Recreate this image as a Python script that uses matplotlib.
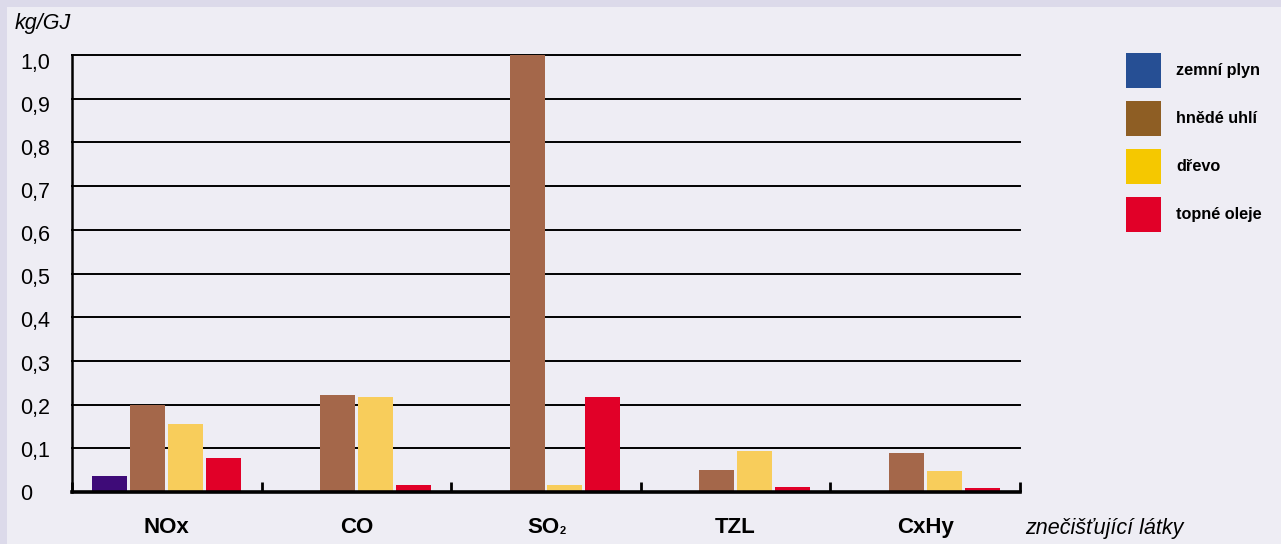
import matplotlib
matplotlib.use("Agg")
import matplotlib.pyplot as plt
import matplotlib.patches as mpatches
import matplotlib.transforms as mtransforms
import numpy as np

categories = ["NOx", "CO", "SO₂", "TZL", "CxHy"]
series_names = ["zemní plyn", "hnědé uhlí", "dřevo", "topné oleje"]
zemni_plyn = [0.037, 0.0, 0.0, 0.0, 0.0]
hnede_uhli = [0.200, 0.222, 1.000, 0.050, 0.089]
drevo = [0.156, 0.217, 0.016, 0.094, 0.048]
topne_oleje = [0.078, 0.016, 0.217, 0.011, 0.009]
y_ticks = [0.0, 0.1, 0.2, 0.3, 0.4, 0.5, 0.6, 0.7, 0.8, 0.9, 1.0]
y_tick_labels = ["0", "0,1", "0,2", "0,3", "0,4", "0,5", "0,6", "0,7", "0,8", "0,9", "1,0"]

bar_colors = ["#3E0B78", "#A4674A", "#F8CD5B", "#E10028"]
legend_colors = ["#264F94", "#8E5E24", "#F5C800", "#E10028"]

W, H = 1281, 544
fig = plt.figure(figsize=(W / 100, H / 100), dpi=100)
fig.patch.set_facecolor("#DCDAEA")
fig.add_artist(mpatches.Rectangle((7 / W, 0), 1 - 7 / W, 1 - 7 / H, transform=fig.transFigure,
                                  facecolor="#EEEDF4", edgecolor="none", zorder=-10))

ax_l, ax_r, ax_t, ax_b = 72, 1020, 55, 492
ax = fig.add_axes([ax_l / W, 1 - ax_b / H, (ax_r - ax_l) / W, (ax_b - ax_t) / H])
ax.set_facecolor("none")

font = "Liberation Sans"
x = np.arange(len(categories))
step = 0.2
bw = 35 / 190
all_series = [zemni_plyn, hnede_uhli, drevo, topne_oleje]
for i, (vals, c) in enumerate(zip(all_series, bar_colors)):
    ax.bar(x + (i - 1.5) * step, vals, width=bw, color=c, zorder=3, linewidth=0)

ax.set_xlim(-0.5, len(categories) - 0.5)
ax.set_ylim(0, 1.0)

for yv in y_ticks[1:]:
    ax.axhline(yv, color="black", lw=1.4, zorder=1, clip_on=False)

for s in ["top", "right"]:
    ax.spines[s].set_visible(False)
ax.spines["left"].set_linewidth(1.8)
ax.spines["bottom"].set_linewidth(2.6)
ax.spines["left"].set_zorder(4)
ax.spines["bottom"].set_zorder(4)

ax.set_yticks(y_ticks)
ax.set_yticklabels(y_tick_labels, fontsize=15.5, family=[font, "DejaVu Sans"], ha="left")
ax.tick_params(axis="y", length=0, pad=37.4)
for lab, v in zip(ax.get_yticklabels(), y_ticks):
    lab.set_transform(lab.get_transform() +
                      mtransforms.ScaledTranslation(0, -5.5 * v / 100, fig.dpi_scale_trans))

# category labels; subscript "2" drawn small on the baseline, as in the reference
main_labels = [c.replace("₂", "") for c in categories]
ax.set_xticks(x)
ax.set_xticklabels(main_labels, fontsize=16, fontweight="bold", family=font)
ax.set_xticks(np.arange(-0.5, len(categories)), minor=True)
ax.tick_params(axis="x", which="major", length=0, pad=18)
ax.tick_params(axis="x", which="minor", length=7, width=2, direction="in")

fig.canvas.draw()
renderer = fig.canvas.get_renderer()
for lab, cat in zip(ax.get_xticklabels(), categories):
    if "₂" in cat:
        bb = lab.get_window_extent(renderer)
        shift = 3  # px, centre "SO2" as one unit
        lab.set_transform(lab.get_transform() +
                          mtransforms.ScaledTranslation(-shift / 100, 0, fig.dpi_scale_trans))
        # baseline of label: bottom of bbox + descent approx
        fig.text((bb.x1 - shift + 0.5) / W, (bb.y0 + 3.5) / H, "2", fontsize=8,
                 fontweight="bold", family=font, va="baseline", ha="left")

fig.text(15 / W, 1 - 29 / H, "kg/GJ", fontsize=15.5, style="italic", family=font, va="baseline")
fig.text(1025 / W, 1 - 534 / H, "znečišťující látky", fontsize=15.5, style="italic", family=font,
         va="baseline")

# legend
for i, (name, c) in enumerate(zip(series_names, legend_colors)):
    top = 53 + i * 48
    fig.add_artist(mpatches.Rectangle((1126 / W, 1 - (top + 35) / H), 35 / W, 35 / H,
                                      transform=fig.transFigure, facecolor=c, edgecolor="none"))
    fig.text(1176 / W, 1 - (top + 17.5) / H, name, fontsize=11.7, fontweight="bold",
             family=font, va="center", ha="left")

fig.savefig("out.png", dpi=100, facecolor=fig.get_facecolor())
